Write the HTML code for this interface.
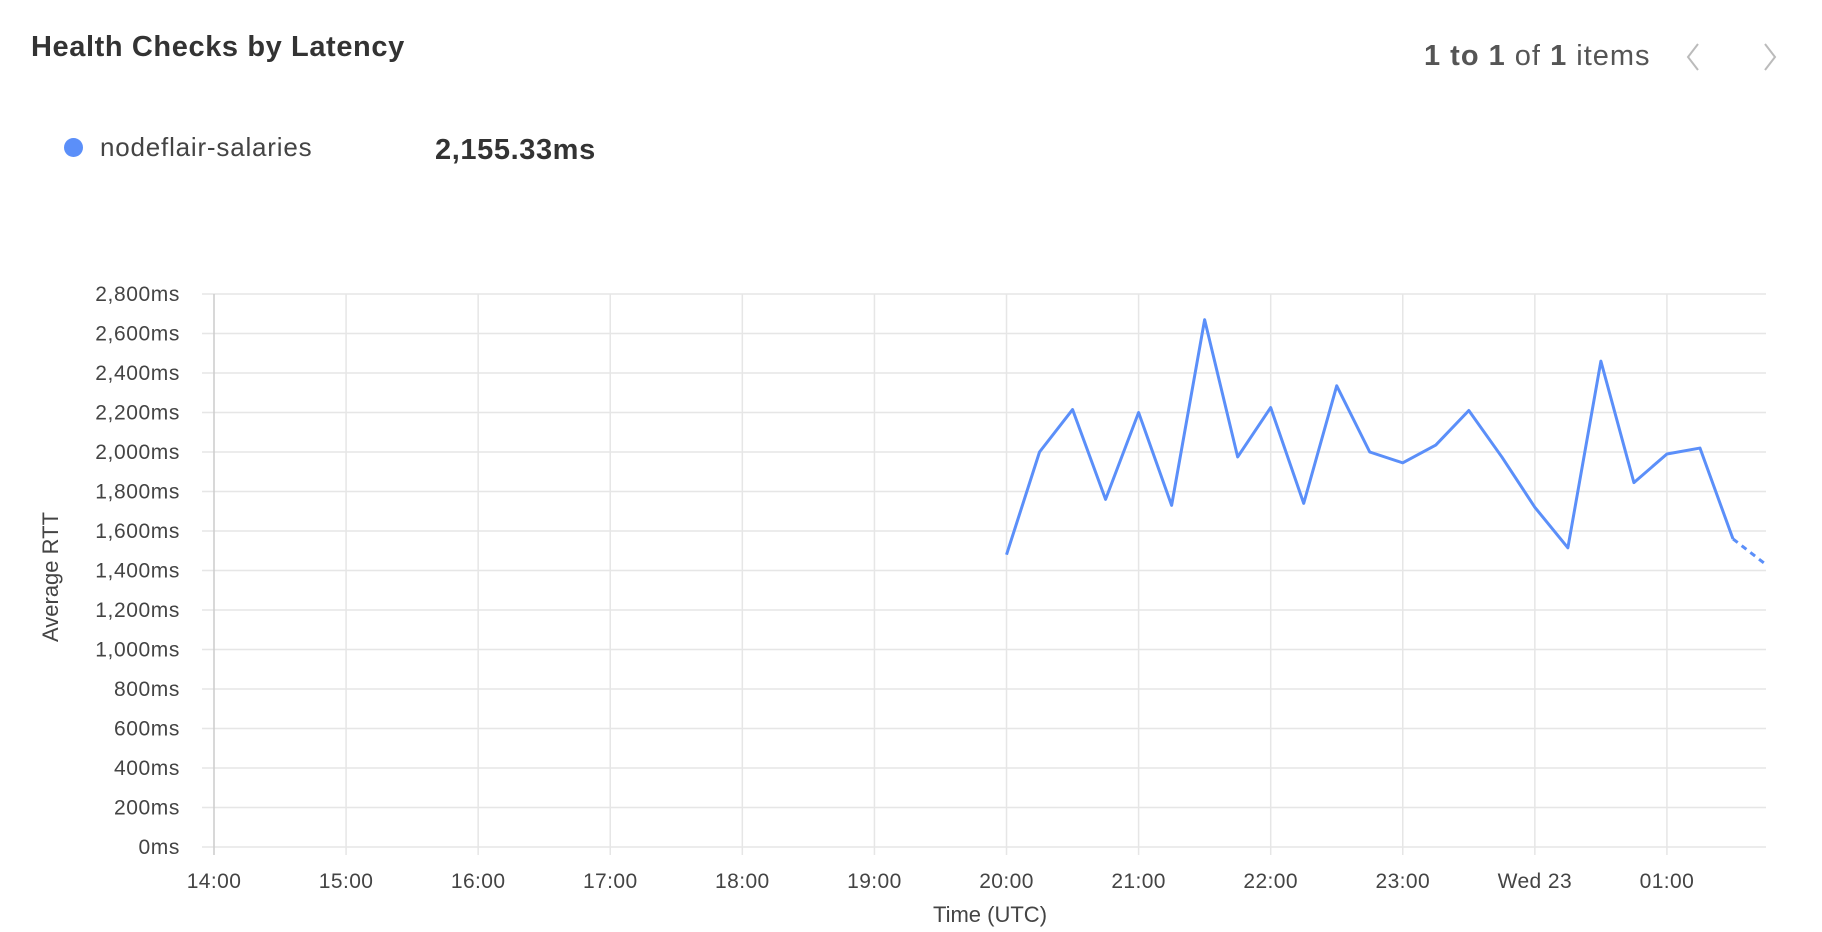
<!DOCTYPE html>
<html><head><meta charset="utf-8"><style>
body{margin:0;width:1822px;height:932px;background:#fff;font-family:"Liberation Sans",sans-serif;color:#333;overflow:hidden;position:relative}
.abs{position:absolute;white-space:nowrap}
</style></head><body>
<div class="abs" style="left:31px;top:31px;font-size:29px;letter-spacing:0.6px;font-weight:bold;color:#333">Health Checks by Latency</div>
<div class="abs" style="left:1424px;top:40px;font-size:29px;letter-spacing:1px;color:#555"><b>1 to 1</b> of <b>1</b> items</div>
<svg class="abs" style="left:1683px;top:40px" width="20" height="34"><polyline points="15,4 5,17 15,30" fill="none" stroke="#bbb" stroke-width="2"/></svg>
<svg class="abs" style="left:1760px;top:40px" width="20" height="34"><polyline points="5,4 15,17 5,30" fill="none" stroke="#bbb" stroke-width="2"/></svg>
<div class="abs" style="left:64px;top:138px;width:19px;height:19px;border-radius:50%;background:#5b8ff9"></div>
<div class="abs" style="left:100px;top:132px;font-size:26px;letter-spacing:0.8px;color:#444">nodeflair-salaries</div>
<div class="abs" style="left:435px;top:134px;font-size:29px;letter-spacing:0.6px;font-weight:bold;color:#333">2,155.33ms</div>
<svg id="chart" class="abs" style="left:0;top:0" width="1822" height="932"></svg>
<script>
const yTicks=[0,200,400,600,800,1000,1200,1400,1600,1800,2000,2200,2400,2600,2800];
const xLabels=["14:00","15:00","16:00","17:00","18:00","19:00","20:00","21:00","22:00","23:00","Wed 23","01:00"];
const times=[20,20.25,20.5,20.75,21,21.25,21.5,21.75,22,22.25,22.5,22.75,23,23.25,23.5,23.75,24,24.25,24.5,24.75,25,25.25,25.5];
const values=[1480,2000,2215,1760,2200,1730,2670,1975,2225,1740,2335,2000,1945,2035,2210,1975,1720,1515,2460,1845,1990,2020,1560];
const partialTimes=[25.5,25.75];
const partialValues=[1560,1430];
const L=214,R=1766,T=294,B=847,x0=14,x1=25.75,yMax=2800;
const sx=t=>L+(t-x0)/(x1-x0)*(R-L);
const sy=v=>B-v/yMax*(B-T);
const svg=document.getElementById('chart');const NS='http://www.w3.org/2000/svg';
function mk(tag,attrs,txt){const e=document.createElementNS(NS,tag);for(const k in attrs)e.setAttribute(k,attrs[k]);if(txt!=null)e.textContent=txt;svg.appendChild(e);return e;}
yTicks.forEach(v=>{
 const g=mk('line',{x1:L-12,x2:R,y1:sy(v),y2:sy(v),stroke:'#e6e6e6','stroke-width':1.5});
 
 
 const t=mk('text',{x:180,y:sy(v)+7,'text-anchor':'end','font-size':21,'letter-spacing':0.6,fill:'#444','font-family':'Liberation Sans, sans-serif'},v.toLocaleString('en-US')+'ms');
 
 
});
xLabels.forEach((s,i)=>{
 const x=sx(14+i);
 const g=mk('line',{x1:x,x2:x,y1:T,y2:B+8,stroke:i==0?'#ccc':'#e6e6e6','stroke-width':1.5});
 
 
 const t=mk('text',{x:x,y:888,'text-anchor':'middle','font-size':21,'letter-spacing':0.4,fill:'#444','font-family':'Liberation Sans, sans-serif'},s);
 
 
});
const xt=mk('text',{x:990,y:922,'text-anchor':'middle','font-size':22,fill:'#444','font-family':'Liberation Sans, sans-serif'},'Time (UTC)');


const yt=mk('text',{x:0,y:0,'text-anchor':'middle','font-size':22,fill:'#444','font-family':'Liberation Sans, sans-serif',transform:'translate(58,577) rotate(-90)'},'Average RTT');


const ln=mk('polyline',{points:times.map((t,i)=>sx(t)+','+sy(values[i])).join(' '),fill:'none',stroke:'#5b8ff9','stroke-width':3,'stroke-linejoin':'round'});


const dl=mk('polyline',{points:partialTimes.map((t,i)=>sx(t)+','+sy(partialValues[i])).join(' '),fill:'none',stroke:'#5b8ff9','stroke-width':3,'stroke-dasharray':'6 5'});


</script>
</body></html>
